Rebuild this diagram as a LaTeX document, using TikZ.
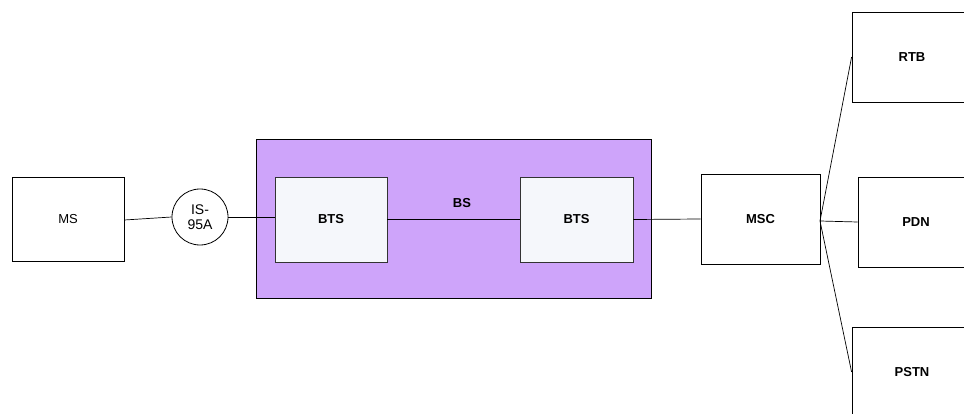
\documentclass[tikz,border=0pt]{standalone}
\usepackage{fontspec}
\setmainfont{Liberation Sans}
\usetikzlibrary{patterns}
\definecolor{bsfill}{RGB}{206,164,250}
\definecolor{btsfill}{RGB}{245,247,251}
\begin{document}
\begin{tikzpicture}[x=1pt,y=-1pt,
  box/.style={draw=black,line width=0.8pt,fill=white,inner sep=0pt,font=\fontsize{13}{15}\selectfont},
  btsbox/.style={box,fill=btsfill,draw=black!80,line width=0.9pt,font=\bfseries\fontsize{13}{15}\selectfont},
  link/.style={draw=black,line width=0.7pt}]
\useasboundingbox (0,0) rectangle (964,414);
% BS container
\node[draw=black,line width=0.8pt,fill=bsfill,minimum width=395pt,minimum height=159pt,inner sep=0pt] (bs) at (453.5,218.5) {};
\node[font=\bfseries\fontsize{13}{15}\selectfont] (bslabel) at (462,203) {BS};
% Boxes
\node[box,minimum width=112pt,minimum height=84pt] (ms) at (68,219) {MS};
\node[draw=black,line width=0.8pt,fill=white,circle,minimum size=56pt,inner sep=0pt,align=center,font=\fontsize{14}{15}\selectfont] (is) at (200,217) {IS-\\95A};
\node[btsbox,minimum width=112pt,minimum height=85pt] (bts1) at (331,219.5) {BTS};
\node[btsbox,minimum width=113pt,minimum height=85pt] (bts2) at (576.5,219.5) {BTS};
\node[box,minimum width=119pt,minimum height=90pt,font=\bfseries\fontsize{13}{15}\selectfont] (msc) at (760.5,219) {MSC};
\node[box,minimum width=120pt,minimum height=90pt] (rtbbox) at (912,57) {};
\node[font=\bfseries\fontsize{13}{15}\selectfont] (rtb) at (912,57) {RTB};
\node[box,minimum width=120pt,minimum height=90pt] (pdnbox) at (918,222) {};
\node[font=\bfseries\fontsize{13}{15}\selectfont] (pdn) at (916,222) {PDN};
\node[box,minimum width=120pt,minimum height=90pt] (pstnbox) at (912,372) {};
\node[font=\bfseries\fontsize{13}{15}\selectfont] (pstn) at (912,372) {PSTN};
\coordinate (hub) at (820,221);
% Connectors
\draw[link] (ms.east |- 0,220) -- (is.west);
\draw[link] (is.east) -- (bts1.west |- is.east);
\draw[link] (bts1.east) -- (bts2.west);
\draw[link] (bts2.east) -- (msc.west);
\draw[link] (hub) -- (rtbbox.west);
\draw[link] (hub) -- (pdnbox.west);
\draw[link] (hub) -- (pstnbox.west);
\end{tikzpicture}
\end{document}
